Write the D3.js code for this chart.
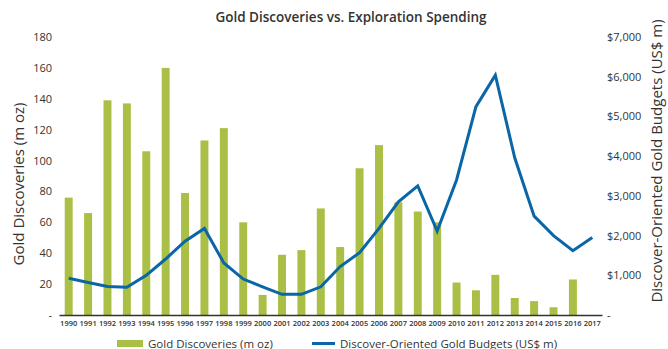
<!DOCTYPE html>
<html>
<head>
<meta charset="utf-8">
<script src="https://cdn.jsdelivr.net/npm/d3@7"></script>
<style>
  html, body { margin: 0; padding: 0; background: #fff; }
  svg { display: block; font-family: "Open Sans", sans-serif; }
</style>
</head>
<body>
<svg id="chart" width="668" height="349"></svg>
<script>
// Years shown on the category axis
const years = [1990,1991,1992,1993,1994,1995,1996,1997,1998,1999,2000,2001,2002,2003,
               2004,2005,2006,2007,2008,2009,2010,2011,2012,2013,2014,2015,2016,2017];
// Gold discovered per year (million ounces); no value for 2017
const discoveries = [76,66,139,137,106,160,79,113,121,60,13,39,42,69,
                     44,95,110,73,67,60,21,16,26,11,9,5,23,null];
// Discovery-oriented gold exploration budgets (US$ millions)
const budgets = [925,820,720,700,1000,1410,1860,2180,1310,905,710,520,520,710,
                 1220,1570,2180,2850,3250,2115,3400,5245,6040,3960,2490,2000,1620,1950];
// Axis tick values
const leftTicks = [0,20,40,60,80,100,120,140,160,180];
const rightTicks = [0,1000,2000,3000,4000,5000,6000,7000];

const barColor = "#a9bf45";
const lineColor = "#0a66a6";
const textColor = "#333";

const svg = d3.select("#chart");
const plot = { left: 59, right: 602, top: 37, bottom: 315 };

const x = d3.scaleBand().domain(years).range([plot.left, plot.right]).paddingInner(0.59).paddingOuter(0.295);
const xc = d => x(d) + x.bandwidth() / 2;
const yL = d3.scaleLinear().domain([0, 180]).range([plot.bottom, plot.top]);
const yR = d3.scaleLinear().domain([0, 7000]).range([plot.bottom, plot.top]);

// Title
svg.append("text")
  .attr("x", 351).attr("y", 22)
  .attr("text-anchor", "middle")
  .attr("font-size", 13.5).attr("font-weight", 600)
  .attr("fill", textColor)
  .text("Gold Discoveries vs. Exploration Spending");

// Bars
svg.append("g").selectAll("rect")
  .data(years.map((yr, i) => ({ yr, v: discoveries[i] })).filter(d => d.v != null))
  .join("rect")
  .attr("x", d => x(d.yr))
  .attr("width", x.bandwidth())
  .attr("y", d => yL(d.v))
  .attr("height", d => yL(0) - yL(d.v))
  .attr("fill", barColor);

// Left axis
const leftAxis = d3.axisLeft(yL).tickValues(leftTicks)
  .tickFormat(d => d === 0 ? "-" : d).tickSize(0).tickPadding(0);
const gl = svg.append("g").attr("transform", `translate(52,0)`).call(leftAxis);
gl.select(".domain").remove();
gl.selectAll("text").attr("font-size", 11).attr("fill", textColor).attr("font-family", "Open Sans");

// Right axis
const fmt = d3.format("$,");
const rightAxis = d3.axisRight(yR).tickValues(rightTicks)
  .tickFormat(d => d === 0 ? "-" : fmt(d)).tickSize(0).tickPadding(0);
const gr = svg.append("g").attr("transform", `translate(607,0)`).call(rightAxis);
gr.select(".domain").remove();
gr.selectAll("text").attr("font-size", 11).attr("fill", textColor).attr("font-family", "Open Sans");

// Category axis
const bottomAxis = d3.axisBottom(x).tickSize(0).tickPadding(6);
const gb = svg.append("g").attr("transform", `translate(0,${plot.bottom})`).call(bottomAxis);
gb.select(".domain").attr("stroke", "#333").attr("stroke-width", 1.5);
gb.selectAll("text").attr("font-size", 7.5).attr("font-weight", 600)
  .attr("fill", textColor).attr("font-family", "Open Sans");

// Budget line
const line = d3.line().x((d, i) => xc(years[i])).y(d => yR(d));
svg.append("path")
  .datum(budgets)
  .attr("d", line)
  .attr("fill", "none")
  .attr("stroke", lineColor)
  .attr("stroke-width", 3)
  .attr("stroke-linejoin", "miter");

// Axis titles
svg.append("text")
  .attr("transform", "translate(24,184) rotate(-90)")
  .attr("text-anchor", "middle")
  .attr("font-size", 15).attr("fill", textColor)
  .text("Gold Discoveries (m oz)");
svg.append("text")
  .attr("transform", "translate(662,161) rotate(-90)")
  .attr("text-anchor", "middle")
  .attr("font-size", 15).attr("fill", textColor)
  .text("Discover-Oriented Gold Budgets (US$ m)");

// Legend
const lg = svg.append("g");
lg.append("rect").attr("x", 117).attr("y", 340).attr("width", 26).attr("height", 7).attr("fill", barColor);
lg.append("text").attr("x", 148).attr("y", 347.5).attr("font-size", 11.5).attr("fill", textColor)
  .text("Gold Discoveries (m oz)");
lg.append("line").attr("x1", 312).attr("x2", 335).attr("y1", 343.5).attr("y2", 343.5)
  .attr("stroke", lineColor).attr("stroke-width", 3);
lg.append("text").attr("x", 340).attr("y", 347.5).attr("font-size", 11.5).attr("fill", textColor)
  .text("Discover-Oriented Gold Budgets (US$ m)");
</script>
</body>
</html>
